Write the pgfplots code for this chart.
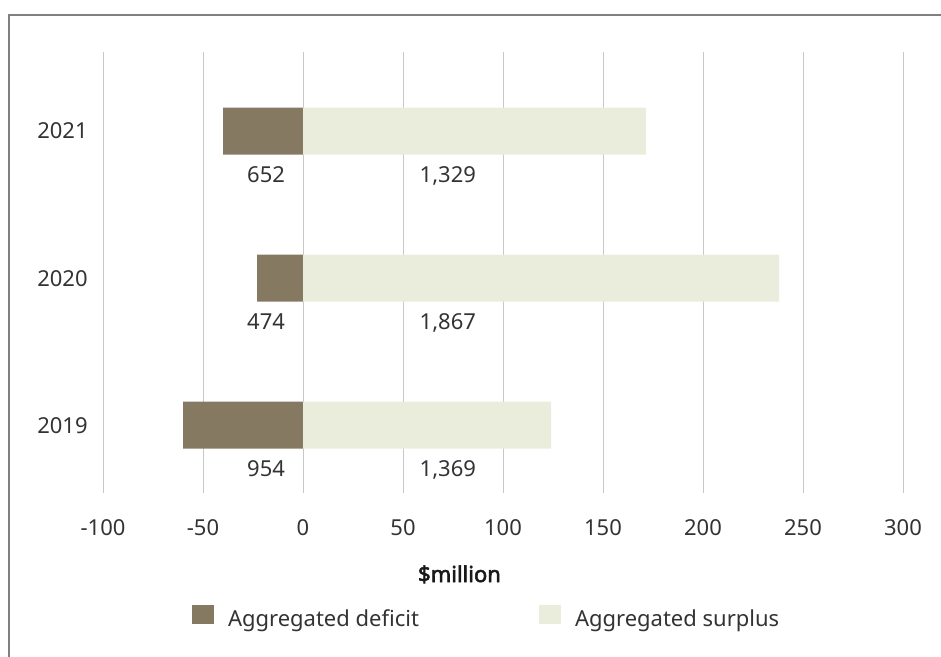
\documentclass[border=0pt]{standalone}
\usepackage{fontspec}
\setmainfont{Noto Sans}
\newfontfamily\boldlabel{Noto Sans}[FakeBold=2.5]
\usepackage{pgfplots}
\pgfplotsset{compat=1.18}
\definecolor{deficit}{HTML}{857961}
\definecolor{surplus}{HTML}{EAEDDC}
\definecolor{txt}{HTML}{333333}
\definecolor{gridc}{HTML}{C8C8C8}
\definecolor{framec}{HTML}{808080}
\begin{document}
\begin{tikzpicture}[x=1pt,y=1pt,font=\fontsize{11}{13}\selectfont]
\path[use as bounding box] (0,0) rectangle (470.5,-328.5);
\draw[framec, line width=0.7pt] (470.5,-7.5) -- (4.5,-7.5) -- (4.5,-328.5);
\begin{axis}[
  at={(51.5pt,-246.65pt)}, anchor=south west,
  scale only axis, width=400pt, height=220.8pt,
  xmin=-100, xmax=300, ymin=-0.463, ymax=2.54,
  xtick={-100,-50,0,50,100,150,200,250,300},
  xticklabels={-100,-50,0,50,100,150,200,250,300},
  ytick={0,1,2}, yticklabels={2019,2020,2021},
  xmajorgrids, major grid style={gridc, line width=0.5pt},
  axis line style={draw=none}, tick style={draw=none},
  xticklabel style={anchor=base, inner sep=0pt, yshift=-21.3pt, text=txt},
  yticklabel style={anchor=east, inner sep=0pt, xshift=-7.5pt, text=txt},
  legend columns=2,
  legend cell align=left,
  legend style={draw=none, fill=none, inner sep=0pt, outer sep=0pt,
    at={(0.11125,-0.2800)}, anchor=west,
    nodes={inner sep=0pt, text=txt},
    column sep=7pt,
    /tikz/every even column/.append style={column sep=60pt}},
  legend image code/.code={\fill[#1] (0pt,-2.4pt) rectangle (11pt,7.4pt);},
]
\addplot[xbar, bar shift=0pt, bar width=0.32, fill=deficit, draw=none]
  coordinates {(-60,0) (-23,1) (-40,2)};
\addlegendentry{Aggregated deficit}
\addplot[xbar, bar shift=0pt, bar width=0.32, fill=surplus, draw=none]
  coordinates {(124,0) (238,1) (171.5,2)};
\addlegendentry{Aggregated surplus}
\node[anchor=base east, text=txt] at (axis cs:-5.5,-0.348) {954};
\node[anchor=base east, text=txt] at (axis cs:-5.5,0.652) {474};
\node[anchor=base east, text=txt] at (axis cs:-5.5,1.652) {652};
\node[anchor=base east, text=txt] at (axis cs:90,-0.348) {1,369};
\node[anchor=base east, text=txt] at (axis cs:90,0.652) {1,867};
\node[anchor=base east, text=txt] at (axis cs:90,1.652) {1,329};
\end{axis}
\node[anchor=base, inner sep=0pt, text=black!90] at (229.75,-291) {\boldlabel\fontsize{11}{13}\selectfont \$million};
\end{tikzpicture}
\end{document}
